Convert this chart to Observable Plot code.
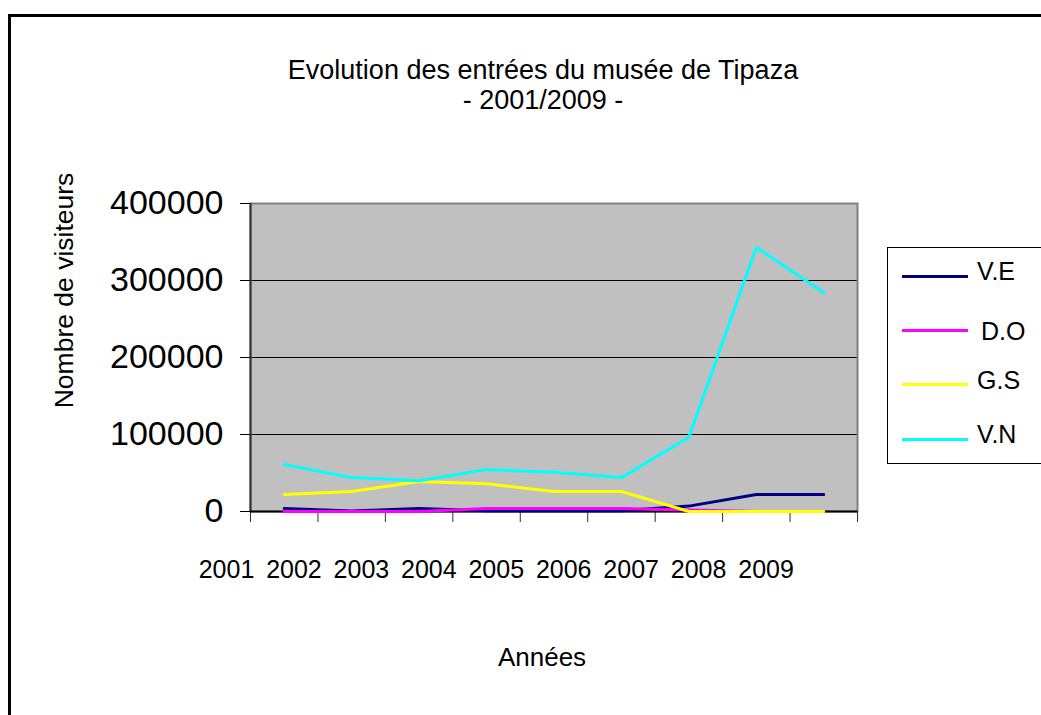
<!DOCTYPE html>
<html>
<head>
<meta charset="utf-8">
<script src="https://cdn.jsdelivr.net/npm/d3@7"></script>
<script src="https://cdn.jsdelivr.net/npm/@observablehq/plot@0.6"></script>
<style>
  html, body { margin: 0; padding: 0; background: #fff; overflow: hidden; }
  body { width: 1041px; height: 715px; position: relative; font-family: Arial, "Liberation Sans", sans-serif; color: #000; }
  #frame { position: absolute; left: 8px; top: 14px; width: 1100px; height: 800px; border-left: 3px solid #000; border-top: 3px solid #000; box-sizing: border-box; pointer-events: none; }
  #title { position: relative; margin-left: 45px; width: 996px; height: 130px; box-sizing: border-box; padding-top: 55px; text-align: center; font-size: 27px; line-height: 30px; }
  #chart svg { display: block; }
  #legend { position: absolute; left: 887px; top: 247px; width: 200px; height: 217px; border-left: 1px solid #000; border-top: 1px solid #000; border-bottom: 1px solid #000; box-sizing: border-box; background: #fff; }
  #legend .ln { position: absolute; left: 14px; width: 66px; height: 3px; }
  #legend .lb { position: absolute; font-size: 25px; line-height: 25px; white-space: nowrap; }
</style>
</head>
<body>
<div id="title"><div>Evolution des entrées du musée de Tipaza</div><div>- 2001/2009 -</div></div>
<div id="chart"></div>
<div id="legend"></div>
<div id="frame"></div>
<script>
// ---- data ----
const years = ["2001", "2002", "2003", "2004", "2005", "2006", "2007", "2008", "2009"];
const seriesNames = ["V.E", "D.O", "G.S", "V.N"];
const seriesColors = ["#000080", "#FF00FF", "#FFFF00", "#00FFFF"];
const VE = [4000, 500, 4000, 1000, 1000, 1000, 7000, 22000, 22000];
const DO = [0, 0, 0, 4000, 4000, 4000, 2000, 0, 0];
const GS = [22000, 26000, 39000, 36000, 26000, 26000, 0, 0, 0];
const VN = [61000, 44000, 40000, 54500, 51000, 44000, 96500, 343000, 284000];
const yTicks = [0, 100000, 200000, 300000, 400000];

const seriesValues = [VE, DO, GS, VN];
const rows = seriesNames.flatMap((s, k) =>
  seriesValues[k].map((v, i) => ({serie: s, idx: i + 0.5, year: years[i], value: v}))
);

const font = "Arial, 'Liberation Sans', sans-serif";

const chart = Plot.plot({
  width: 1041,
  height: 585,
  marginLeft: 250,
  marginRight: 184,
  marginTop: 73,
  marginBottom: 204,
  style: {fontFamily: font, color: "#000", background: "transparent", overflow: "visible"},
  x: {type: "linear", domain: [0, years.length], axis: null},
  y: {domain: [0, 400000], axis: null},
  color: {domain: seriesNames, range: seriesColors},
  marks: [
    Plot.frame({fill: "#C0C0C0", stroke: null}),
    Plot.ruleY(yTicks.slice(1, -1), {stroke: "#000", strokeWidth: 1}),
    Plot.frame({stroke: "#808080", strokeWidth: 2}),
    Plot.ruleX([0], {stroke: "#303030", strokeWidth: 2}),
    Plot.axisY({ticks: yTicks, tickSize: 10, tickPadding: 17, tickFormat: d => String(d), fontSize: 34, label: null, stroke: "#000"}),
    Plot.axisX({ticks: d3.range(years.length + 1), tickSize: 11, tickFormat: () => "", label: null, stroke: "#303030"}),
    Plot.axisX({ticks: d3.range(years.length), tickSize: 0, tickPadding: 49, tickFormat: i => years[i], fontSize: 25, dx: -24, label: null}),
    Plot.ruleY([0], {stroke: "#000", strokeWidth: 2}),
    Plot.lineY(rows, {x: "idx", y: "value", z: "serie", stroke: "serie", strokeWidth: 3, strokeLinejoin: "miter", curve: "linear"}),
    Plot.text(["Nombre de visiteurs"], {frameAnchor: "left", rotate: -90, textAnchor: "middle", lineAnchor: "middle", dx: -186, dy: -67, fontSize: 26.5}),
    Plot.text(["Années"], {frameAnchor: "bottom", textAnchor: "middle", lineAnchor: "middle", dx: -12, dy: 146, fontSize: 26})
  ]
});
document.getElementById("chart").appendChild(chart);

// ---- legend ----
const legend = document.getElementById("legend");
const lineTops = [27, 81, 135, 190];
const labelTops = [11, 71, 120, 174];
const labelLefts = [89, 93, 89, 89];
seriesNames.forEach((s, k) => {
  const ln = document.createElement("div");
  ln.className = "ln";
  ln.style.top = lineTops[k] + "px";
  ln.style.background = seriesColors[k];
  legend.appendChild(ln);
  const lb = document.createElement("div");
  lb.className = "lb";
  lb.style.top = labelTops[k] + "px";
  lb.style.left = labelLefts[k] + "px";
  lb.textContent = s;
  legend.appendChild(lb);
});
</script>
</body>
</html>
